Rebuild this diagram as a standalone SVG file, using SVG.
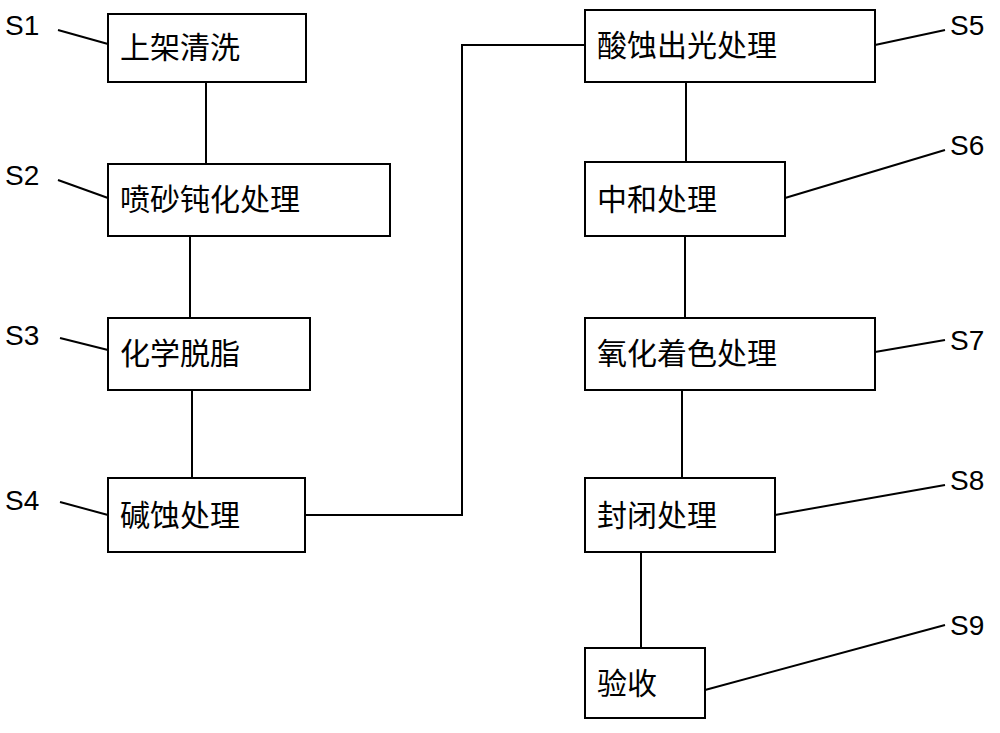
<svg xmlns="http://www.w3.org/2000/svg" width="1000" height="733" viewBox="0 0 1000 733">
<style>
.b{fill:#fff;stroke:#000;stroke-width:2}
.t{font-family:"Noto Sans CJK SC",sans-serif;font-size:30px;fill:#000}
.l{font-family:"Liberation Sans",sans-serif;font-size:28px;fill:#000}
line,polyline{stroke:#000;stroke-width:2;fill:none}
</style>
<rect width="1000" height="733" fill="#fff"/>
<g id="connectors">
<line x1="206" y1="82" x2="206" y2="164"/>
<line x1="190" y1="236" x2="190" y2="318"/>
<line x1="192" y1="390" x2="192" y2="478"/>
<polyline points="305,515 462,515 462,45 585,45"/>
<line x1="686" y1="82" x2="686" y2="162"/>
<line x1="685" y1="236" x2="685" y2="318"/>
<line x1="682" y1="390" x2="682" y2="478"/>
<line x1="641" y1="552" x2="641" y2="648"/>
<line x1="58" y1="30" x2="108" y2="44"/>
<line x1="58" y1="180" x2="108" y2="198"/>
<line x1="60" y1="338" x2="108" y2="350"/>
<line x1="60" y1="502" x2="108" y2="515"/>
<line x1="875" y1="45" x2="945" y2="30"/>
<line x1="785" y1="198" x2="945" y2="150"/>
<line x1="875" y1="352" x2="945" y2="340"/>
<line x1="775" y1="515" x2="945" y2="485"/>
<line x1="705" y1="690" x2="945" y2="625"/>
</g>
<g id="S1"><rect class="b" x="108" y="14" width="198" height="68"/><text class="t" x="120" y="58">上架清洗</text><text class="l" x="5" y="35">S1</text></g>
<g id="S2"><rect class="b" x="108" y="164" width="282" height="72"/><text class="t" x="120" y="210">喷砂钝化处理</text><text class="l" x="5" y="185">S2</text></g>
<g id="S3"><rect class="b" x="108" y="318" width="202" height="72"/><text class="t" x="120" y="364">化学脱脂</text><text class="l" x="5" y="345">S3</text></g>
<g id="S4"><rect class="b" x="108" y="478" width="197" height="74"/><text class="t" x="120" y="526">碱蚀处理</text><text class="l" x="5" y="510">S4</text></g>
<g id="S5"><rect class="b" x="585" y="10" width="290" height="72"/><text class="t" x="597" y="56">酸蚀出光处理</text><text class="l" x="950" y="35">S5</text></g>
<g id="S6"><rect class="b" x="585" y="162" width="200" height="74"/><text class="t" x="597" y="210">中和处理</text><text class="l" x="950" y="155">S6</text></g>
<g id="S7"><rect class="b" x="585" y="318" width="290" height="72"/><text class="t" x="597" y="364">氧化着色处理</text><text class="l" x="950" y="350">S7</text></g>
<g id="S8"><rect class="b" x="585" y="478" width="190" height="74"/><text class="t" x="597" y="526">封闭处理</text><text class="l" x="950" y="490">S8</text></g>
<g id="S9"><rect class="b" x="585" y="648" width="120" height="70"/><text class="t" x="597" y="694">验收</text><text class="l" x="950" y="635">S9</text></g>
</svg>
